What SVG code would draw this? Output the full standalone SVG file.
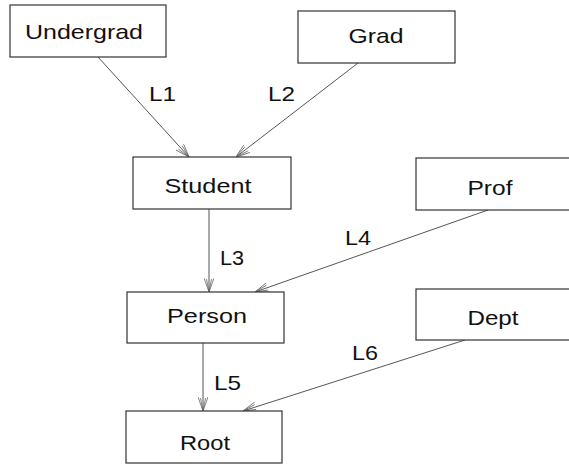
<svg xmlns="http://www.w3.org/2000/svg" width="569" height="466" viewBox="0 0 569 466">
<defs>
<style>
.box{fill:#fff;stroke:#333;stroke-width:1.2}
.t{font-family:"Liberation Sans",Arial,sans-serif;font-size:21px;fill:#111;text-anchor:middle}
.lbl{font-family:"Liberation Sans",Arial,sans-serif;font-size:21px;fill:#111}
.edge{stroke:#555;stroke-width:1;fill:none;marker-end:url(#arr)}
</style>
<marker id="arr" viewBox="0 0 14 10" refX="14" refY="5" markerWidth="14" markerHeight="10" markerUnits="userSpaceOnUse" orient="auto">
<path d="M0,0 L14,5 L0,10 M1,2.5 L14,5 L1,7.5" fill="none" stroke="#666" stroke-width="0.8"/>
</marker>
</defs>
<rect width="569" height="466" fill="#fff"/>
<g id="connectors">
<line class="edge" x1="98" y1="57" x2="189" y2="157"/>
<line class="edge" x1="358" y1="63" x2="236" y2="157"/>
<line class="edge" x1="209" y1="209" x2="209" y2="292"/>
<line class="edge" x1="488" y1="210" x2="255" y2="292"/>
<line class="edge" x1="203" y1="343" x2="203" y2="411"/>
<line class="edge" x1="465" y1="340" x2="243" y2="411"/>
<text class="lbl" x="149" y="101" textLength="27" lengthAdjust="spacingAndGlyphs">L1</text>
<text class="lbl" x="268" y="101" textLength="27" lengthAdjust="spacingAndGlyphs">L2</text>
<text class="lbl" x="220" y="265" textLength="24" lengthAdjust="spacingAndGlyphs">L3</text>
<text class="lbl" x="345" y="245" textLength="26" lengthAdjust="spacingAndGlyphs">L4</text>
<text class="lbl" x="214" y="390" textLength="27" lengthAdjust="spacingAndGlyphs">L5</text>
<text class="lbl" x="352" y="360" textLength="26" lengthAdjust="spacingAndGlyphs">L6</text>
</g>
<g id="undergrad"><rect class="box" x="10" y="5" width="156" height="52"/><text class="t" x="84" y="39" textLength="118" lengthAdjust="spacingAndGlyphs">Undergrad</text></g>
<g id="grad"><rect class="box" x="298" y="11" width="157" height="52"/><text class="t" x="376" y="43" textLength="55" lengthAdjust="spacingAndGlyphs">Grad</text></g>
<g id="student"><rect class="box" x="133" y="157" width="158" height="52"/><text class="t" x="208" y="193" textLength="87" lengthAdjust="spacingAndGlyphs">Student</text></g>
<g id="prof"><rect class="box" x="416" y="158" width="157" height="52"/><text class="t" x="490" y="195" textLength="45" lengthAdjust="spacingAndGlyphs">Prof</text></g>
<g id="person"><rect class="box" x="127" y="292" width="157" height="51"/><text class="t" x="207" y="323" textLength="80" lengthAdjust="spacingAndGlyphs">Person</text></g>
<g id="dept"><rect class="box" x="416" y="289" width="157" height="51"/><text class="t" x="493" y="325" textLength="51" lengthAdjust="spacingAndGlyphs">Dept</text></g>
<g id="root"><rect class="box" x="126" y="411" width="156" height="52"/><text class="t" x="205" y="450" textLength="50" lengthAdjust="spacingAndGlyphs">Root</text></g>
</svg>
